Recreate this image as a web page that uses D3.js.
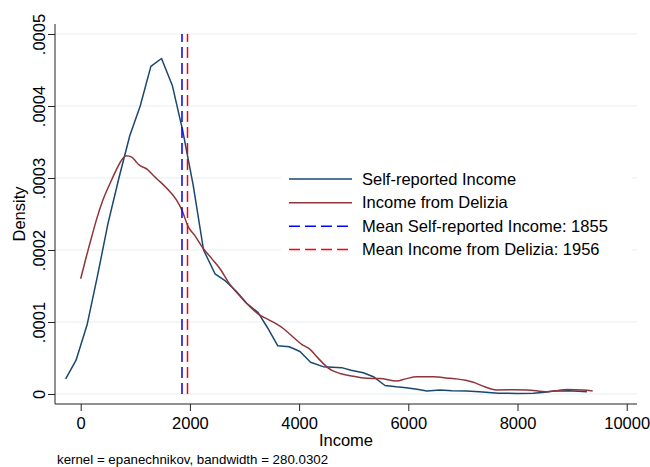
<!DOCTYPE html>
<html>
<head>
<meta charset="utf-8">
<script src="https://cdn.jsdelivr.net/npm/d3@7"></script>
<style>
  body { margin: 0; background: #fff; }
  text { font-family: "Liberation Sans", Arial, Helvetica, sans-serif; fill: #000; }
</style>
</head>
<body>
<div id="chart"></div>
<script>
// Kernel density of self-reported income: [income, density]
const selfReported = [
    [-275, 0.000021], [-85, 0.000047], [120, 0.000097], [310, 0.000165],
    [500, 0.000237], [700, 0.000300], [900, 0.000359], [1090, 0.000400],
    [1285, 0.000455], [1480, 0.000466], [1680, 0.000428], [1870, 0.000365],
    [2060, 0.000290], [2250, 0.000200], [2460, 0.000167], [2650, 0.000157],
    [2845, 0.000143], [3040, 0.000126], [3250, 0.000113], [3430, 0.000091],
    [3610, 0.000067], [3820, 0.0000657], [4016, 0.000059], [4210, 0.000044],
    [4440, 0.000038], [4780, 0.0000366], [4950, 0.000033], [5176, 0.0000296],
    [5360, 0.000024], [5573, 0.0000118], [5780, 0.0000100], [5960, 0.0000088],
    [6160, 0.0000065], [6340, 0.0000042], [6580, 0.0000056], [6800, 0.0000046],
    [7070, 0.0000042], [7300, 0.000003], [7650, 0.000001], [8000, 0.0000008],
    [8290, 0.000001], [8500, 0.0000025], [8660, 0.0000042], [8950, 0.0000045],
    [9270, 0.0000032]
];

// Kernel density of income from Delizia: [income, density]
const delizia = [
    [0, 0.000160], [100, 0.000190], [200, 0.000218], [300, 0.000245],
    [400, 0.000268], [540, 0.000293], [650, 0.000311], [760, 0.000326],
    [830, 0.000331], [934, 0.000329], [1000, 0.000324], [1055, 0.000319],
    [1220, 0.000312], [1350, 0.000302], [1452, 0.000295], [1635, 0.000281],
    [1750, 0.000270], [1850, 0.000256], [1971, 0.000232], [2100, 0.000219],
    [2245, 0.000202], [2400, 0.000188], [2551, 0.000174], [2734, 0.000152],
    [2870, 0.000140], [3009, 0.000128], [3130, 0.000119], [3253, 0.000111],
    [3420, 0.000104], [3590, 0.000097], [3710, 0.000091], [3833, 0.000083],
    [4048, 0.000069], [4200, 0.000062], [4352, 0.0000495], [4535, 0.000036],
    [4749, 0.0000285], [4932, 0.0000255], [5238, 0.0000218], [5482, 0.0000215],
    [5787, 0.000018], [5950, 0.000021], [6154, 0.000024], [6458, 0.000024],
    [6764, 0.0000218], [6886, 0.000021], [7050, 0.000019], [7191, 0.0000162],
    [7400, 0.000010], [7619, 0.0000056], [7900, 0.0000058], [8169, 0.0000056],
    [8535, 0.0000032], [8750, 0.000005], [8901, 0.0000062], [9200, 0.0000055],
    [9377, 0.0000042]
];

// Means drawn as vertical dashed lines
const meanSelfReported = 1855;
const meanDelizia = 1956;

// Ticks
const xTicks = [0, 2000, 4000, 6000, 8000, 10000];
const yTicks = [0, 0.0001, 0.0002, 0.0003, 0.0004, 0.0005];
const yTickLabels = ['0', '.0001', '.0002', '.0003', '.0004', '.0005'];

const legendLabels = [
    'Self-reported Income',
    'Income from Delizia',
    'Mean Self-reported Income: 1855',
    'Mean Income from Delizia: 1956'
];

const width = 650, height = 467;
const plot = { left: 55, right: 637, top: 24, bottom: 404 };
const navy = '#1a476f', maroon = '#90353b';

const svg = d3.select('#chart')
    .append('svg')
    .attr('width', width)
    .attr('height', height);

const x = d3.scaleLinear().domain([0, 10000]).range([80.7, 626.7]);
const y = d3.scaleLinear().domain([0, 0.0005]).range([394, 34]);

// Gridlines
svg.append('g')
    .selectAll('line')
    .data(yTicks)
    .join('line')
    .attr('x1', plot.left)
    .attr('x2', plot.right)
    .attr('y1', d => y(d))
    .attr('y2', d => y(d))
    .attr('stroke', '#e6eded')
    .attr('stroke-width', 1.2);

// Y axis
const yAxis = svg.append('g')
    .attr('transform', `translate(${plot.left},0)`)
    .call(d3.axisLeft(y).tickValues(yTicks).tickSize(7).tickSizeOuter(0)
        .tickFormat((d, i) => yTickLabels[i]));
yAxis.select('.domain').remove();
yAxis.selectAll('.tick line').attr('stroke', '#222');
yAxis.selectAll('.tick text')
    .attr('x', 0).attr('y', 0).attr('dy', 0)
    .attr('transform', 'translate(-10,0) rotate(-90)')
    .attr('text-anchor', 'middle')
    .style('font-size', '16.5px')
    .style('font-family', null);

// X axis
const xAxis = svg.append('g')
    .attr('transform', `translate(0,${plot.bottom})`)
    .call(d3.axisBottom(x).tickValues(xTicks).tickSize(7).tickSizeOuter(0)
        .tickFormat(d3.format('d')));
xAxis.select('.domain').remove();
xAxis.selectAll('.tick line').attr('stroke', '#222');
xAxis.selectAll('.tick text')
    .attr('y', 25).attr('dy', 0)
    .style('font-size', '16.5px')
    .style('font-family', null);

// Axis lines
svg.append('line')
    .attr('x1', plot.left).attr('x2', plot.left)
    .attr('y1', plot.top).attr('y2', plot.bottom)
    .attr('stroke', '#222');
svg.append('line')
    .attr('x1', plot.left).attr('x2', plot.right)
    .attr('y1', plot.bottom).attr('y2', plot.bottom)
    .attr('stroke', '#222');

// Axis titles
svg.append('text')
    .attr('transform', `translate(25,${(plot.top + plot.bottom) / 2}) rotate(-90)`)
    .attr('text-anchor', 'middle')
    .style('font-size', '16.5px')
    .text('Density');

svg.append('text')
    .attr('x', (plot.left + plot.right) / 2)
    .attr('y', 446)
    .attr('text-anchor', 'middle')
    .style('font-size', '16.5px')
    .text('Income');

svg.append('text')
    .attr('x', 57)
    .attr('y', 464)
    .style('font-size', '13.3px')
    .text('kernel = epanechnikov, bandwidth = 280.0302');

// Legend background (hides gridlines behind it)
svg.append('rect')
    .attr('x', 281).attr('y', 165)
    .attr('width', 351).attr('height', 97)
    .attr('fill', '#fff');

// Density curves
const line = d3.line()
    .x(d => x(d[0]))
    .y(d => y(d[1]));

svg.append('path')
    .datum(selfReported)
    .attr('d', line)
    .attr('fill', 'none')
    .attr('stroke', navy)
    .attr('stroke-width', 1.5)
    .attr('stroke-linejoin', 'round');

svg.append('path')
    .datum(delizia)
    .attr('d', line.curve(d3.curveMonotoneX))
    .attr('fill', 'none')
    .attr('stroke', maroon)
    .attr('stroke-width', 1.5)
    .attr('stroke-linejoin', 'round');

// Mean lines
const means = [
    { value: meanSelfReported, color: '#0000ff' },
    { value: meanDelizia, color: '#ff0000' }
];
svg.append('g')
    .selectAll('line')
    .data(means)
    .join('line')
    .attr('x1', d => x(d.value))
    .attr('x2', d => x(d.value))
    .attr('y1', y(0))
    .attr('y2', y(0.0005))
    .attr('stroke', d => d.color)
    .attr('stroke-width', 1.5)
    .attr('stroke-dasharray', '11,5');

// Legend
const legendStyles = [
    { color: navy, dash: null },
    { color: maroon, dash: null },
    { color: '#0000ff', dash: '11,5' },
    { color: '#ff0000', dash: '11,5' }
];
const legendRows = [179, 202.7, 226.3, 249.5];

const legend = svg.append('g');
legendLabels.forEach((label, i) => {
    legend.append('line')
        .attr('x1', 289).attr('x2', 352)
        .attr('y1', legendRows[i]).attr('y2', legendRows[i])
        .attr('stroke', legendStyles[i].color)
        .attr('stroke-width', 1.5)
        .attr('stroke-dasharray', legendStyles[i].dash);
    legend.append('text')
        .attr('x', 362)
        .attr('y', legendRows[i])
        .attr('dy', '0.35em')
        .style('font-size', '16.5px')
        .text(label);
});
</script>
</body>
</html>
